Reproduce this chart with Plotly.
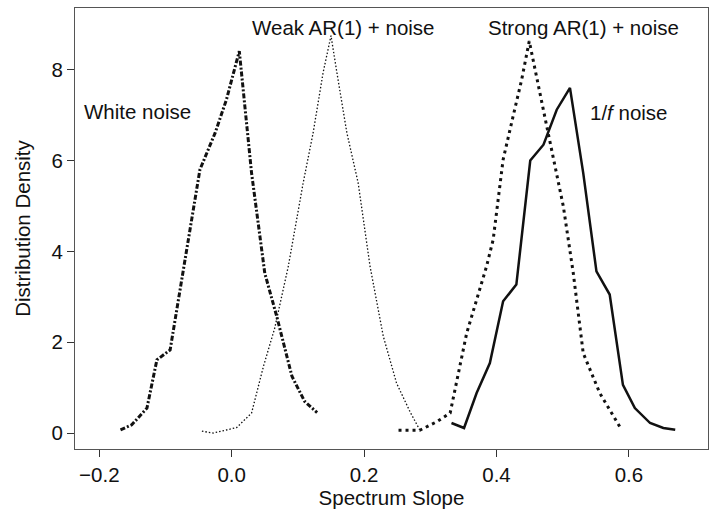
import plotly.graph_objects as go

# White noise
white_x = [-0.168, -0.151, -0.128, -0.113, -0.093, -0.048, -0.025, -0.008, 0.0115, 0.030, 0.050, 0.068, 0.091, 0.110, 0.129]
white_y = [0.07, 0.18, 0.55, 1.61, 1.83, 5.80, 6.61, 7.34, 8.41, 5.73, 3.52, 2.57, 1.25, 0.70, 0.45]

# Weak AR(1) + noise
weak_x = [-0.045, -0.028, -0.01, 0.0075, 0.030, 0.048, 0.065, 0.0855, 0.108, 0.123, 0.138, 0.150, 0.159, 0.174, 0.191, 0.209, 0.229, 0.249, 0.270, 0.284]
weak_y = [0.04, 0.00, 0.06, 0.12, 0.44, 1.47, 2.31, 3.67, 5.51, 6.61, 7.93, 8.75, 7.93, 6.61, 5.51, 3.67, 2.13, 1.10, 0.45, 0.07]

# Strong AR(1) + noise
strong_x = [0.252, 0.270, 0.284, 0.310, 0.330, 0.355, 0.385, 0.395, 0.410, 0.425, 0.438, 0.4495, 0.456, 0.476, 0.501, 0.516, 0.531, 0.556, 0.589]
strong_y = [0.06, 0.06, 0.06, 0.25, 0.44, 2.20, 3.67, 4.26, 6.02, 6.97, 7.78, 8.63, 8.15, 6.75, 4.99, 3.52, 1.76, 0.88, 0.07]

# 1/f noise
pink_x = [0.332, 0.351, 0.370, 0.390, 0.410, 0.430, 0.451, 0.471, 0.491, 0.511, 0.531, 0.551, 0.571, 0.591, 0.609, 0.632, 0.652, 0.670]
pink_y = [0.22, 0.11, 0.88, 1.54, 2.90, 3.27, 6.00, 6.35, 7.12, 7.60, 5.73, 3.56, 3.05, 1.06, 0.55, 0.22, 0.11, 0.07]

x_ticks = [-0.2, 0.0, 0.2, 0.4, 0.6]
x_ticklabels = ["\u22120.2", "0.0", "0.2", "0.4", "0.6"]
y_ticks = [0, 2, 4, 6, 8]

labels = ["White noise", "Weak AR(1) + noise", "Strong AR(1) + noise", "1/<i>f</i> noise"]
label_x = [-0.226, 0.169, 0.531, 0.538]
label_y = [7.08, 8.93, 8.93, 7.05]

FONT = "Liberation Sans, Arial, Helvetica, sans-serif"
FS = 20.5
fig = go.Figure()
fig.add_trace(go.Scatter(x=white_x, y=white_y, mode="lines",
                         line=dict(color="#111", width=3, dash="5px,2px,2px,2px")))
fig.add_trace(go.Scatter(x=weak_x, y=weak_y, mode="lines",
                         line=dict(color="#111", width=1.3, dash="1.5px,2px")))
fig.add_trace(go.Scatter(x=strong_x, y=strong_y, mode="lines",
                         line=dict(color="#111", width=3, dash="3px,4px")))
fig.add_trace(go.Scatter(x=pink_x, y=pink_y, mode="lines",
                         line=dict(color="#111", width=2.5)))

anchors = ["left", "center", "center", "left"]
for t, xx, yy, a in zip(labels, label_x, label_y, anchors):
    fig.add_annotation(x=xx, y=yy, text=t, showarrow=False, xanchor=a, yanchor="middle",
                       font=dict(family=FONT, size=FS, color="#111"))

axis_common = dict(showline=True, mirror=True, linecolor="#555", linewidth=1,
                   ticks="outside", ticklen=7, tickcolor="#333", tickwidth=1,
                   showgrid=False, zeroline=False,
                   tickfont=dict(family=FONT, size=FS, color="#111"))
fig.update_xaxes(range=[-0.2367, 0.7195], tickvals=x_ticks, ticktext=x_ticklabels,
                 title=dict(text="Spectrum Slope", font=dict(family=FONT, size=FS, color="#111"), standoff=5),
                 **axis_common)
fig.update_yaxes(range=[-0.352, 9.36], tickvals=y_ticks,
                 title=dict(text="Distribution Density", font=dict(family=FONT, size=FS, color="#111"), standoff=15),
                 **axis_common)
fig.update_layout(width=709, height=511, margin=dict(l=75, r=1, t=8, b=62),
                  plot_bgcolor="white", paper_bgcolor="white", showlegend=False)
fig.write_html("out.html")
